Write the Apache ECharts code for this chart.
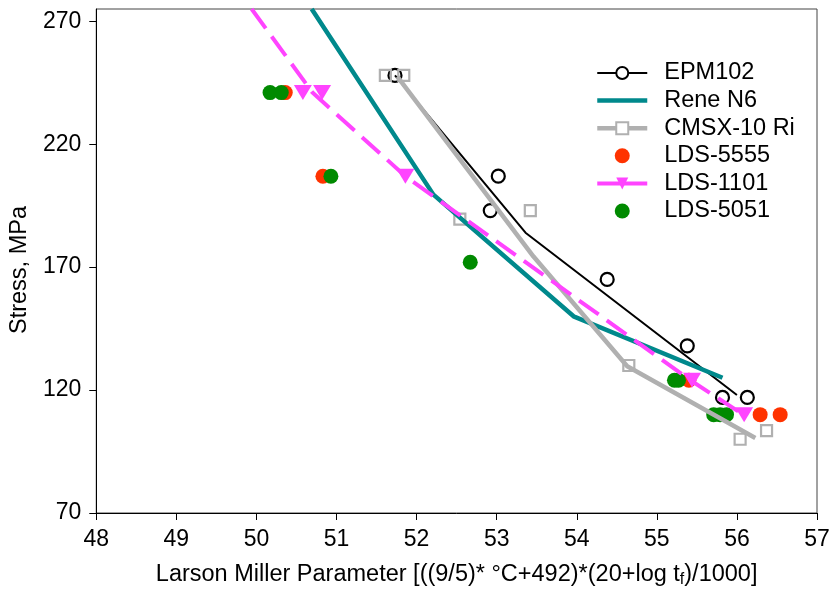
<!DOCTYPE html>
<html>
<head>
<meta charset="utf-8">
<script src="https://cdn.jsdelivr.net/npm/echarts@6/dist/echarts.min.js"></script>
<style>
  html, body { margin: 0; background: #fff; }
  #chart { width: 834px; height: 593px; }
</style>
</head>
<body>
<div id="chart"></div>
<script>
// EPM102: measured points and the fitted line
const epmX = [51.73, 53.02, 52.92, 54.38, 55.38, 55.82, 56.13];
const epmY = [248, 207, 193, 165, 138, 117, 117];
const epmLineX = [51.73, 53.36, 56.0];
const epmLineY = [248, 184, 118];

// Rene N6 curve
const reneX = [50.69, 52.21, 53.96, 55.82];
const reneY = [275, 199.5, 150, 125];

// CMSX-10 Ri: points and line
const cmsxX = [51.61, 51.84, 52.54, 53.42, 54.65, 56.04, 56.37];
const cmsxY = [248, 248, 189.5, 193, 130, 100, 103.5];
const cmsxLineX = [51.76, 53.46, 54.63, 56.23];
const cmsxLineY = [247.5, 174.3, 129.7, 100.5];

// LDS-5555
const lds5555X = [50.36, 50.83, 55.40, 56.29, 56.54];
const lds5555Y = [241, 207, 124, 110, 110];

// LDS-1101: points and dashed line
const lds1101X = [50.58, 50.82, 51.86, 55.44, 56.09];
const lds1101Y = [241, 241, 207, 124, 110];
const lds1101LineX = [49.94, 50.70, 51.86, 55.42, 56.08];
const lds1101LineY = [275, 241, 207, 124, 110];

// LDS-5051
const lds5051X = [50.17, 50.31, 50.93, 52.67, 55.22, 55.27, 55.71, 55.79, 55.87];
const lds5051Y = [241, 241, 207, 172, 124, 124, 110, 110, 110];

const yTicks = [70, 120, 170, 220, 270];

const pairs = (xs, ys) => xs.map((x, i) => [x, ys[i]]);

const font = '"Liberation Sans", Arial, sans-serif';
const chart = echarts.init(document.getElementById('chart'));

const option = {
    animation: false,
    grid: {
        left: 96, right: 17, top: 9, bottom: 79,
        show: true, borderColor: '#444', borderWidth: 1
    },
    xAxis: {
        type: 'value', min: 48, max: 57, interval: 1,
        name: 'Larson Miller Parameter [((9/5)* °C+492)*(20+log t{sub|f})/1000]',
        nameLocation: 'middle', nameGap: 49,
        nameTextStyle: {
            fontSize: 23.5, color: '#000', fontFamily: font, lineHeight: 26,
            rich: {
                sub: { fontSize: 16, lineHeight: 16, verticalAlign: 'bottom', color: '#000', fontFamily: font }
            }
        },
        axisLine: { lineStyle: { color: '#000', width: 1 } },
        axisTick: { inside: false, length: 7, lineStyle: { color: '#000' } },
        axisLabel: { fontSize: 23, color: '#000', fontFamily: font, margin: 15 },
        splitLine: { show: false }
    },
    yAxis: {
        type: 'value', min: 70, max: 275, interval: 50,
        name: 'Stress, MPa',
        nameLocation: 'middle', nameGap: 58,
        nameTextStyle: { fontSize: 23.5, color: '#000', fontFamily: font, padding: [0, 18, 0, 0] },
        axisLine: { lineStyle: { color: '#000', width: 1 } },
        axisTick: { inside: false, length: 7, lineStyle: { color: '#000' }, customValues: yTicks },
        axisLabel: { fontSize: 23, color: '#000', fontFamily: font, margin: 15, customValues: yTicks },
        splitLine: { show: false }
    },
    legend: {
        orient: 'vertical', left: 590, top: 56,
        itemWidth: 50, itemHeight: 15, itemGap: 3.6,
        textStyle: { fontSize: 23.5, color: '#000', fontFamily: font, padding: [0, 0, 0, 12] },
        data: [
            { name: 'EPM102', lineStyle: { width: 2 } },
            { name: 'Rene N6', itemStyle: { opacity: 0 }, lineStyle: { width: 4.5 } },
            { name: 'CMSX-10 Ri', lineStyle: { width: 4.5 } },
            { name: 'LDS-5555' },
            { name: 'LDS-1101', lineStyle: { type: 'solid', width: 4 } },
            { name: 'LDS-5051' }
        ]
    },
    series: [
        {
            name: 'EPM102', type: 'line', data: pairs(epmLineX, epmLineY),
            symbol: 'emptyCircle', showSymbol: false,
            lineStyle: { color: '#000', width: 2 }, itemStyle: { color: '#000' }
        },
        {
            name: 'EPM102 data', type: 'scatter', data: pairs(epmX, epmY),
            symbol: 'circle', symbolSize: 13,
            itemStyle: { color: 'rgba(0,0,0,0)', borderColor: '#000', borderWidth: 2.2, opacity: 1 }
        },
        {
            name: 'Rene N6', type: 'line', data: pairs(reneX, reneY),
            symbol: 'none',
            lineStyle: { color: '#00898c', width: 4.5 }, itemStyle: { color: '#00898c' }
        },
        {
            name: 'CMSX-10 Ri', type: 'line', data: pairs(cmsxLineX, cmsxLineY),
            symbol: 'emptyRect', showSymbol: false,
            lineStyle: { color: '#b0b0b0', width: 4.5 }, itemStyle: { color: '#b0b0b0' }
        },
        {
            name: 'CMSX-10 Ri data', type: 'scatter', data: pairs(cmsxX, cmsxY),
            symbol: 'rect', symbolSize: 11,
            itemStyle: { color: 'rgba(0,0,0,0)', borderColor: '#b0b0b0', borderWidth: 2.2, opacity: 1 }
        },
        {
            name: 'LDS-5555', type: 'scatter', data: pairs(lds5555X, lds5555Y),
            symbol: 'circle', symbolSize: 15,
            itemStyle: { color: '#ff3300', opacity: 1 }
        },
        {
            name: 'LDS-1101', type: 'line', data: pairs(lds1101LineX, lds1101LineY),
            symbol: 'triangle', symbolRotate: 180, showSymbol: false,
            lineStyle: { color: '#ff44ff', width: 4, type: [24, 10] }, itemStyle: { color: '#ff44ff' }
        },
        {
            name: 'LDS-1101 data', type: 'scatter', data: pairs(lds1101X, lds1101Y),
            symbol: 'triangle', symbolRotate: 180, symbolSize: [18, 15],
            itemStyle: { color: '#ff44ff', opacity: 1 }
        },
        {
            name: 'LDS-5051', type: 'scatter', data: pairs(lds5051X, lds5051Y),
            symbol: 'circle', symbolSize: 15,
            itemStyle: { color: '#008a00', opacity: 1 }
        }
    ]
};

chart.setOption(option);
window.addEventListener('resize', () => chart.resize());
</script>
</body>
</html>
